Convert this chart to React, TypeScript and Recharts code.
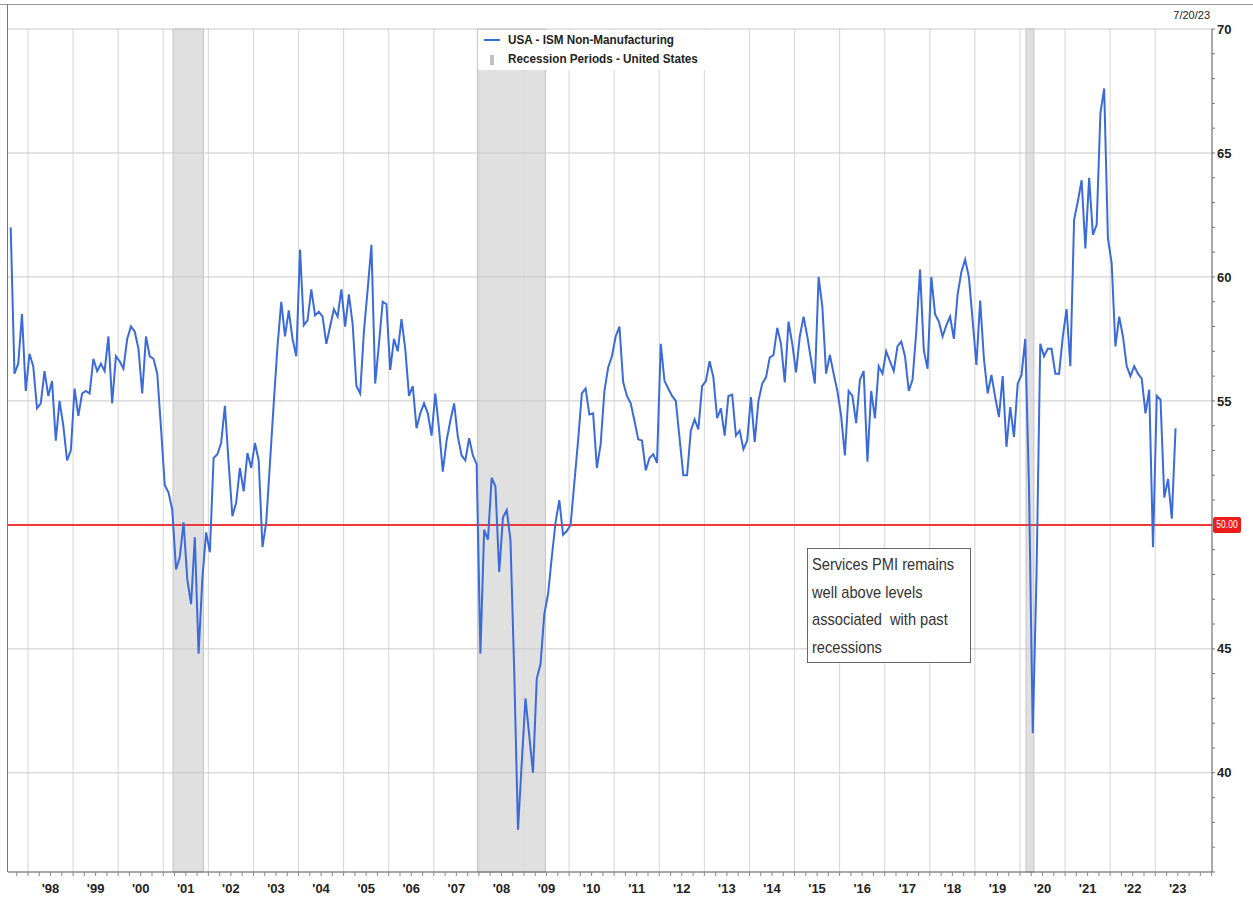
import React from "react";
import { LineChart, Line, XAxis, YAxis, ReferenceLine, ReferenceArea } from "recharts";

// ISM Non-Manufacturing index, monthly, Aug 1997 -> Jun 2023
const v1997 = [62.0, 56.1, 56.5, 58.5, 55.4];
const v1998 = [56.9, 56.4, 54.7, 54.9, 56.2, 55.2, 55.8, 53.4, 55.0, 54.0, 52.6, 53.0];
const v1999 = [55.5, 54.4, 55.3, 55.4, 55.3, 56.7, 56.2, 56.5, 56.2, 57.6, 54.9, 56.8];
const v2000 = [56.6, 56.3, 57.5, 58.0, 57.8, 57.1, 55.3, 57.6, 56.8, 56.7, 56.1, 53.9];
const v2001 = [51.6, 51.3, 50.6, 48.2, 48.7, 50.1, 47.8, 46.8, 49.5, 44.8, 47.8, 49.7];
const v2002 = [48.9, 52.7, 52.85, 53.3, 54.8, 52.5, 50.35, 50.9, 52.3, 51.35, 52.9, 52.3];
const v2003 = [53.3, 52.6, 49.1, 50.1, 52.5, 54.9, 57.2, 59.0, 57.6, 58.65, 57.5, 56.8];
const v2004 = [61.1, 58.05, 58.25, 59.5, 58.45, 58.6, 58.4, 57.3, 58.0, 58.7, 58.4, 59.5];
const v2005 = [58.0, 59.3, 58.1, 55.6, 55.3, 57.8, 59.5, 61.3, 55.7, 57.3, 59.0, 58.9];
const v2006 = [56.25, 57.5, 57.0, 58.3, 57.1, 55.2, 55.6, 53.9, 54.5, 54.9, 54.5, 53.6];
const v2007 = [55.3, 53.85, 52.15, 53.4, 54.2, 54.9, 53.55, 52.8, 52.6, 53.5, 52.8, 52.45];
const v2008 = [44.8, 49.8, 49.4, 51.9, 51.55, 48.1, 50.3, 50.6, 49.4, 44.1, 37.7, 40.4];
const v2009 = [43.0, 41.5, 40.0, 43.8, 44.4, 46.4, 47.2, 48.7, 50.1, 51.0, 49.6, 49.75];
const v2010 = [50.0, 51.7, 53.4, 55.3, 55.5, 54.45, 54.5, 52.3, 53.25, 55.4, 56.35, 56.8];
const v2011 = [57.6, 58.0, 55.75, 55.2, 54.9, 54.2, 53.45, 53.4, 52.2, 52.7, 52.85, 52.5];
const v2012 = [57.3, 55.8, 55.5, 55.2, 55.0, 53.5, 52.0, 52.0, 53.8, 54.25, 53.85, 55.6];
const v2013 = [55.8, 56.6, 55.95, 54.3, 54.7, 53.6, 55.2, 55.25, 53.6, 53.8, 53.05, 53.4];
const v2014 = [55.15, 53.35, 55.0, 55.7, 55.95, 56.75, 56.85, 57.95, 57.3, 55.75, 58.2, 57.3];
const v2015 = [56.15, 57.6, 58.4, 57.6, 56.65, 55.7, 60.0, 58.8, 56.1, 56.85, 56.1, 55.4];
const v2016 = [54.4, 52.8, 55.4, 55.2, 54.1, 55.85, 56.2, 52.55, 55.4, 54.3, 56.4, 56.1];
const v2017 = [57.0, 56.6, 56.2, 57.2, 57.4, 56.8, 55.4, 55.85, 57.8, 60.3, 57.05, 56.3];
const v2018 = [60.0, 58.5, 58.2, 57.6, 58.05, 58.4, 57.5, 59.3, 60.2, 60.7, 60.0, 58.25];
const v2019 = [56.45, 59.05, 56.7, 55.3, 56.05, 55.15, 54.35, 56.0, 53.15, 54.75, 53.55, 55.7];
const v2020 = [56.05, 57.5, 51.5, 41.6, 48.0, 57.3, 56.8, 57.1, 57.1, 56.1, 56.1, 57.6];
const v2021 = [58.7, 56.4, 62.3, 63.05, 63.9, 61.15, 64.0, 61.7, 62.1, 66.6, 67.6, 61.55];
const v2022 = [60.55, 57.2, 58.4, 57.6, 56.4, 56.0, 56.4, 56.1, 55.9, 54.5, 55.45, 49.1];
const v2023 = [55.2, 55.05, 51.1, 51.85, 50.25, 53.9];

const FIRST_MONTH = -5; // Aug 1997, months counted from Jan 1998
const YEAR_LABELS = ["'98", "'99", "'00", "'01", "'02", "'03", "'04", "'05", "'06", "'07", "'08", "'09", "'10", "'11", "'12", "'13", "'14", "'15", "'16", "'17", "'18", "'19", "'20", "'21", "'22", "'23"];
const Y_TICKS = [40, 45, 50, 55, 60, 65, 70];
// [first month, last month] counted from Jan 1998
const RECESSIONS = [
  [38, 46], // Mar 2001 - Nov 2001
  [119, 137], // Dec 2007 - Jun 2009
  [265, 267], // Feb 2020 - Apr 2020
];
const NOTE = ["Services PMI remains", "well above levels", "associated\u00a0 with past", "recessions"];

const X_MIN = -5.32;
const X_MAX = 315.1;
const PT = 0.4; // point offset inside month

const values = [
  v1997, v1998, v1999, v2000, v2001, v2002, v2003, v2004, v2005, v2006, v2007, v2008, v2009,
  v2010, v2011, v2012, v2013, v2014, v2015, v2016, v2017, v2018, v2019, v2020, v2021, v2022, v2023,
].flat();
const data = values.map((v, i) => ({ t: FIRST_MONTH + i + PT, v }));

const yearStarts = YEAR_LABELS.map((_, i) => i * 12);
const xTicks: number[] = [];
for (let t = -3; t <= 315; t += 3) xTicks.push(t);
const yMinor: number[] = [];
for (let y = 36; y <= 70; y++) yMinor.push(y);

const FONT = "'Liberation Sans Narrow', 'Arial Narrow', 'Liberation Sans', Arial, sans-serif";
const GRID = "#d6d6d6";

const xLabel = (t: number) => {
  if (((t % 12) + 12) % 12 !== 6) return "";
  return YEAR_LABELS[(t - 6) / 12] ?? "";
};

const Label50 = (props: any) => {
  const vb = props.viewBox;
  if (!vb) return null;
  const x = vb.x + vb.width;
  const y = vb.y;
  return (
    <g>
      <rect x={x + 1} y={y - 8} width={28} height={16} rx={2} fill="#ee1b1b" />
      <text x={x + 15} y={y + 3.5} textAnchor="middle" fontSize={10} fontFamily={FONT} fill="#fff" transform={`translate(${x + 15} 0) scale(0.85 1) translate(${-(x + 15)} 0)`}>
        50.00
      </text>
    </g>
  );
};

export default function App() {
  return (
    <div style={{ position: "absolute", left: 0, top: 0, width: 1253, height: 905, background: "#fff", fontFamily: FONT }}>
      <div style={{ position: "absolute", left: 0, top: 4, width: 1253, height: 1, background: "#9a9a9a" }} />
      <div style={{ position: "absolute", left: 7, top: 4, width: 1, height: 868, background: "#777" }} />
      <div style={{ position: "absolute", left: 1150, top: 9, width: 60, textAlign: "right", fontSize: 11, color: "#222" }}>
        7/20/23
      </div>
      <LineChart width={1253} height={905} data={data} margin={{ top: 29, right: 0, bottom: 0, left: 8 }}>
        <XAxis
          type="number"
          dataKey="t"
          domain={[X_MIN, X_MAX]}
          allowDataOverflow
          ticks={xTicks}
          interval={0}
          tickFormatter={xLabel}
          tickSize={4}
          tickMargin={8}
          height={33}
          axisLine={{ stroke: "#555" }}
          tickLine={{ stroke: "#888" }}
          tick={{ fontSize: 13, fill: "#222", fontFamily: FONT, fontWeight: 700 }}
        />
        <YAxis
          orientation="right"
          domain={[36, 70]}
          allowDataOverflow
          ticks={yMinor}
          interval={0}
          tickFormatter={(v: number) => (v % 5 === 0 && v !== 50 ? String(v) : "")}
          tickSize={3}
          tickMargin={2}
          width={41}
          axisLine={{ stroke: "#555" }}
          tickLine={{ stroke: "#777" }}
          tick={{ fontSize: 13, fill: "#222", fontFamily: FONT, fontWeight: 700 }}
        />
        {RECESSIONS.map(([a, b]) => (
          <ReferenceArea key={a} x1={a + 0.6} x2={b + 0.7} fill="#e0e0e0" fillOpacity={1} stroke="#c4c4c4" strokeWidth={1} />
        ))}
        {yearStarts.map((t) => (
          <ReferenceLine key={"x" + t} x={t} stroke={GRID} strokeWidth={1} />
        ))}
        {Y_TICKS.map((y) => (
          <ReferenceLine key={"y" + y} y={y} stroke="#c8c8c8" strokeWidth={1} />
        ))}
        <ReferenceLine y={50} stroke="#f03a3a" strokeWidth={2} label={<Label50 />} />
        <Line
          type="linear"
          dataKey="v"
          stroke="#3a6bd8"
          strokeWidth={2}
          dot={false}
          isAnimationActive={false}
        />
      </LineChart>
      <div
        style={{
          position: "absolute",
          left: 478,
          top: 30,
          width: 228,
          height: 40,
          background: "#fff",
          fontSize: 13,
          fontWeight: 700,
          color: "#222",
        }}
      >
        <div style={{ position: "absolute", left: 6, top: 9, width: 16, height: 2, background: "#3a6bd8" }} />
        <div style={{ position: "absolute", left: 30, top: 2, whiteSpace: "nowrap", transform: "scaleX(0.9)", transformOrigin: "left" }}>
          USA - ISM Non-Manufacturing
        </div>
        <div style={{ position: "absolute", left: 12, top: 25, width: 4, height: 10, background: "#c0c0c0" }} />
        <div style={{ position: "absolute", left: 30, top: 21, whiteSpace: "nowrap", transform: "scaleX(0.9)", transformOrigin: "left" }}>
          Recession Periods - United States
        </div>
      </div>
      <div
        style={{
          position: "absolute",
          left: 807,
          top: 548,
          width: 164,
          height: 115,
          background: "#fff",
          border: "1.5px solid #666",
          boxSizing: "border-box",
          padding: "2px 4px",
          fontSize: 17,
          lineHeight: "27.5px",
          color: "#333",
        }}
      >
        {NOTE.map((line) => (
          <div key={line} style={{ whiteSpace: "nowrap", transform: "scaleX(0.86)", transformOrigin: "left" }}>
            {line}
          </div>
        ))}
      </div>
    </div>
  );
}
